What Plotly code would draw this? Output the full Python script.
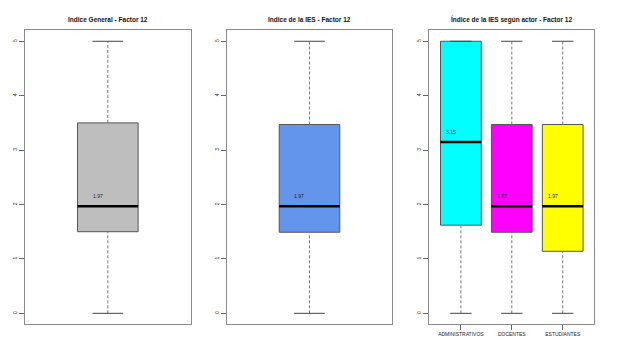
import plotly.graph_objects as go

# ---- data ----
titles = ["Indice General - Factor 12", "Indice de la IES - Factor 12",
          "Índice de la IES según actor - Factor 12"]

general_cat = ["General"]
general_min = [0.0]
general_q1 = [1.50]
general_median = [1.97]
general_q3 = [3.50]
general_max = [5.0]

ies_cat = ["IES"]
ies_min = [0.0]
ies_q1 = [1.49]
ies_median = [1.97]
ies_q3 = [3.47]
ies_max = [5.0]

actor_cat = ["ADMINISTRATIVOS", "DOCENTES", "ESTUDIANTES"]
actor_min = [0.0, 0.0, 0.0]
actor_q1 = [1.62, 1.49, 1.14]
actor_median = [3.15, 1.97, 1.97]
actor_q3 = [5.0, 3.47, 3.47]
actor_max = [5.0, 5.0, 5.0]

y_ticks = [0, 1, 2, 3, 4, 5]

# ---- styles ----
FONT = "Liberation Sans, Arial, sans-serif"
FRAME = "#8a8a8a"
BORDER = "#555555"
panels = [
    dict(cats=general_cat, mn=general_min, q1=general_q1, md=general_median, q3=general_q3, mx=general_max,
         colors=["#BEBEBE"], dom=[0.0405, 0.309], xr=[0.46, 1.54], bw=0.395, cap=0.10, showx=False),
    dict(cats=ies_cat, mn=ies_min, q1=ies_q1, md=ies_median, q3=ies_q3, mx=ies_max,
         colors=["#6495ED"], dom=[0.3674, 0.6358], xr=[0.46, 1.54], bw=0.395, cap=0.10, showx=False),
    dict(cats=actor_cat, mn=actor_min, q1=actor_q1, md=actor_median, q3=actor_q3, mx=actor_max,
         colors=["#00FFFF", "#FF00FF", "#FFFF00"], dom=[0.6958, 0.9632], xr=[0.38, 3.62], bw=0.8, cap=0.21, showx=True),
]

fig = go.Figure()
annotations = []
for i, p in enumerate(panels):
    ax = "" if i == 0 else str(i + 1)
    xref, yref = "x" + ax, "y" + ax
    pos = list(range(1, len(p["cats"]) + 1))
    for j, x in enumerate(pos):
        # box body
        fig.add_trace(go.Box(
            x=[x], q1=[p["q1"][j]], median=[p["md"][j]], q3=[p["q3"][j]],
            lowerfence=[p["q1"][j]], upperfence=[p["q3"][j]],
            width=p["bw"], fillcolor=p["colors"][j], line=dict(color=BORDER, width=1),
            whiskerwidth=0, boxpoints=False, hoverinfo="skip", showlegend=False,
            xaxis=xref, yaxis=yref))
        # whiskers (dashed)
        for a, b in [(p["q3"][j], p["mx"][j]), (p["mn"][j], p["q1"][j])]:
            if b > a:
                fig.add_trace(go.Scatter(x=[x, x], y=[a, b], mode="lines",
                                         line=dict(color="#777777", width=1, dash="3px,2px"),
                                         hoverinfo="skip", showlegend=False, xaxis=xref, yaxis=yref))
        # caps
        for v in [p["mn"][j], p["mx"][j]]:
            fig.add_trace(go.Scatter(x=[x - p["cap"], x + p["cap"]], y=[v, v], mode="lines",
                                     line=dict(color="#444444", width=1),
                                     hoverinfo="skip", showlegend=False, xaxis=xref, yaxis=yref))
        # median
        fig.add_trace(go.Scatter(x=[x - p["bw"] / 2, x + p["bw"] / 2], y=[p["md"][j], p["md"][j]],
                                 mode="lines", line=dict(color="#000000", width=2.5),
                                 hoverinfo="skip", showlegend=False, xaxis=xref, yaxis=yref))
        annotations.append(dict(x=x, y=p["md"][j], xref=xref, yref=yref, text=f"{p['md'][j]:.2f}",
                                showarrow=False, xshift=-10, yshift=10,
                                font=dict(family=FONT, size=5, color="#222222")))
    # title
    annotations.append(dict(x=(p["dom"][0] + p["dom"][1]) / 2, y=0.945, xref="paper", yref="paper",
                            text="<b>" + titles[i] + "</b>", showarrow=False,
                            xanchor="center", yanchor="middle",
                            font=dict(family=FONT, size=6.5, color="#111111")))
    xaxis = dict(domain=p["dom"], range=p["xr"], showgrid=False, zeroline=False,
                 showline=True, mirror=True, linecolor=FRAME, linewidth=1,
                 anchor=yref, fixedrange=True)
    if p["showx"]:
        xaxis.update(tickmode="array", tickvals=pos, ticktext=p["cats"], ticks="outside",
                     ticklen=5, tickcolor="#666666", tickwidth=1,
                     tickfont=dict(family=FONT, size=5, color="#222222"), tickangle=0)
    else:
        xaxis.update(showticklabels=False, ticks="")
    yaxis = dict(domain=[0.0657, 0.9124], range=[-0.2, 5.2], tickmode="array", tickvals=y_ticks,
                 ticktext=[str(t) for t in y_ticks], ticks="outside", ticklen=5,
                 tickcolor="#666666", tickwidth=1, tickangle=-90,
                 tickfont=dict(family=FONT, size=5, color="#222222"),
                 showgrid=False, zeroline=False, showline=True, mirror=True,
                 linecolor=FRAME, linewidth=1, anchor=xref, fixedrange=True)
    fig.layout["xaxis" + ax] = xaxis
    fig.layout["yaxis" + ax] = yaxis

fig.update_layout(width=617, height=347, margin=dict(l=0, r=0, t=0, b=0),
                  paper_bgcolor="white", plot_bgcolor="white",
                  annotations=annotations, showlegend=False, boxmode="overlay")
fig.write_html("out.html", config={"displayModeBar": False})
